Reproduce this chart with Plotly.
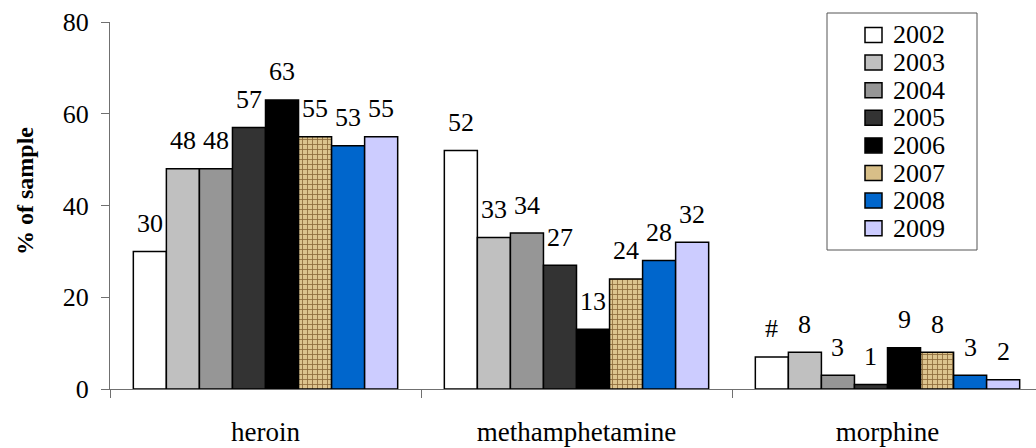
import plotly.graph_objects as go

# ---- data -------------------------------------------------------------
categories = ["heroin", "methamphetamine", "morphine"]
years = ["2002", "2003", "2004", "2005", "2006", "2007", "2008", "2009"]

heroin = [30, 48, 48, 57, 63, 55, 53, 55]
methamphetamine = [52, 33, 34, 27, 13, 24, 28, 32]
morphine = [7, 8, 3, 1, 9, 8, 3, 2]

heroin_labels = ["30", "48", "48", "57", "63", "55", "53", "55"]
methamphetamine_labels = ["52", "33", "34", "27", "13", "24", "28", "32"]
morphine_labels = ["#", "8", "3", "1", "9", "8", "3", "2"]

# ---- styling ----------------------------------------------------------
FONT = "Liberation Serif"
FS = 26
year_colors = ["#ffffff", "#c0c0c0", "#969696", "#333333",
               "#000000", "#d8bf88", "#0066cc", "#ccccff"]
AXIS_GREY = "#707070"

W, H = 1036, 448
ML, MR, MT, MB = 110, 0, 22, 59
plot_w = W - ML - MR
plot_h = H - MT - MB
CAT_PX = 311                      # width of one category slot in pixels
BARGAP = 0.15

series = [heroin, methamphetamine, morphine]
series_labels = [heroin_labels, methamphetamine_labels, morphine_labels]

fig = go.Figure()
for i, year in enumerate(years):
    vals = [s[i] for s in series]
    bar = dict(
        x=categories, y=vals, name=year, showlegend=False,
        marker=dict(color=year_colors[i], line=dict(color="black", width=1.5)),
    )
    if year == "2007":
        bar["marker"]["pattern"] = dict(
            shape="+", fgcolor="#8a6a3a", bgcolor="#dcc48e",
            size=5, solidity=0.3, fillmode="replace",
        )
    fig.add_trace(go.Bar(**bar))

# value labels above each bar
n = len(years)
bw = (1 - BARGAP) / n
annotations = []
for c, (vals, labs) in enumerate(zip(series, series_labels)):
    for i in range(n):
        xc = c - (1 - BARGAP) / 2 + (i + 0.5) * bw
        annotations.append(dict(
            x=xc, y=vals[i], xref="x", yref="y", text=labs[i],
            showarrow=False, yshift=28, xanchor="center", yanchor="middle",
            font=dict(family=FONT, size=FS, color="black"),
        ))

# y-axis title
annotations.append(dict(
    x=(25 - ML) / plot_w, y=(MT + plot_h - 191) / plot_h,
    xref="paper", yref="paper", text="<b>% of sample</b>", textangle=-90,
    showarrow=False, xanchor="center", yanchor="middle",
    font=dict(family=FONT, size=24, color="black"),
))


def px_x(p):
    return (p - ML) / plot_w


def px_y(p):
    return (MT + plot_h - p) / plot_h


# legend box
shapes = [dict(
    type="rect", xref="paper", yref="paper",
    x0=px_x(827), x1=px_x(977), y0=px_y(250), y1=px_y(13),
    line=dict(color="#555555", width=1), fillcolor="white", layer="above",
)]
row0, row_step = 35, 27.6
for i, year in enumerate(years):
    cy = row0 + i * row_step
    shapes.append(dict(
        type="rect", xref="paper", yref="paper",
        x0=px_x(865), x1=px_x(882), y0=px_y(cy + 7.5), y1=px_y(cy - 7.5),
        line=dict(color="black", width=1.5), fillcolor=year_colors[i],
        layer="above",
    ))
    annotations.append(dict(
        x=px_x(891), y=px_y(cy), xref="paper", yref="paper", text=year,
        showarrow=False, xanchor="left", yanchor="middle",
        font=dict(family=FONT, size=FS, color="black"),
    ))

x_range_end = -0.5 + plot_w / CAT_PX

fig.update_layout(
    width=W, height=H,
    margin=dict(l=ML, r=MR, t=MT, b=MB, pad=0, autoexpand=False),
    paper_bgcolor="white", plot_bgcolor="white",
    barmode="group", bargap=BARGAP, bargroupgap=0,
    font=dict(family=FONT, size=FS, color="black"),
    annotations=annotations, shapes=shapes,
    showlegend=False,
    xaxis=dict(
        type="category", range=[-0.5, x_range_end], tickson="boundaries",
        ticks="outside", ticklen=8, tickcolor=AXIS_GREY, tickwidth=1,
        showline=True, linecolor=AXIS_GREY, linewidth=1,
        showgrid=False, zeroline=False, fixedrange=True, automargin=False,
        tickfont=dict(family=FONT, size=27, color="black"),
        ticklabelstandoff=19,
    ),
    yaxis=dict(
        range=[0, 80], tickvals=[0, 20, 40, 60, 80],
        ticks="outside", ticklen=8, tickcolor=AXIS_GREY, tickwidth=1,
        showline=True, linecolor=AXIS_GREY, linewidth=1,
        showgrid=False, zeroline=False, fixedrange=True, automargin=False,
        tickfont=dict(family=FONT, size=FS, color="black"),
        ticklabelstandoff=7,
    ),
)

fig.write_html("out.html", config={"displayModeBar": False})
